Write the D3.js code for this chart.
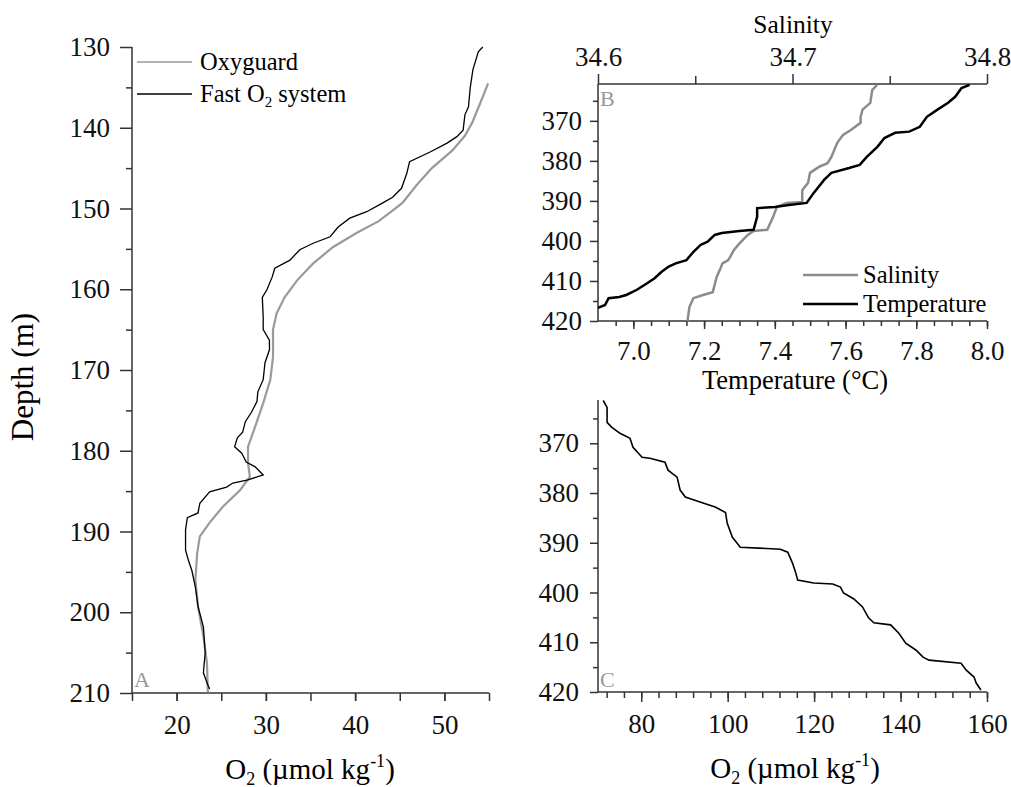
<!DOCTYPE html>
<html>
<head>
<meta charset="utf-8">
<script src="https://cdn.jsdelivr.net/npm/d3@7"></script>
<style>
  body { margin: 0; background: #fff; }
</style>
</head>
<body>
<div id="chart"></div>
<script>
const FONT = "'Liberation Serif', 'Times New Roman', serif";

// Panel A: O2 profiles (value, depth)
const oxyguard = [
  [54.9,134.5],[54,137],[53.1,139.4],[52.3,141],[50.9,142.8],[48.6,145],[46.9,147.1],
  [45.3,149.3],[43.9,150.5],[42.6,151.6],[40.2,153],[37.5,154.8],[35.3,156.8],[33.5,158.9],
  [32.1,161],[31.2,163],[30.8,165],[30.8,168.4],[30.5,171.2],[29.7,174.1],[28.8,177],
  [28,179.5],[28,181.5],[28.2,183.2],[27.1,184.9],[25.2,186.9],[23.7,188.9],[22.6,190.6],
  [22.3,192.7],[22.1,196],[22.4,199.3],[23,203],[23.4,206.3],[23.5,209.9]
];
const fastO2 = [
  [54.3,130],[53.8,130.6],[53.2,132.8],[52.9,135],[52.7,137.4],[52.3,138.4],[52.1,140.3],
  [51.4,141.1],[50.3,141.9],[48.4,143],[46.1,144.2],[45.8,145.6],[45.2,147.5],[44.2,148.6],
  [43.1,149.3],[41.3,150.4],[39.4,151.2],[38.1,152.3],[37.2,153.5],[35.3,154.3],[33.8,155.1],
  [32.7,156.4],[31,157.4],[30.7,158.5],[30.1,160.1],[29.6,161],[29.7,163.4],[29.7,165],
  [30.4,166.3],[30.4,167.5],[29.9,169.1],[29.7,171.2],[29.1,172.7],[29,173.9],[28.4,175.2],
  [27.7,176.4],[27.4,177.7],[26.8,178.4],[26.5,179.5],[27.3,180.3],[27.8,181.4],[28.8,182],
  [29.7,183],[28,183.6],[26.3,184],[25.6,184.5],[23.7,185.1],[22.6,186.5],[22.4,187.7],
  [21.2,188.3],[21,189.8],[21,192.3],[21.3,193.5],[21.7,194.8],[22.1,196.9],[22.4,199.3],
  [23,201.8],[23.2,205],[23,207.5],[23.5,209],[23.7,209.5]
];

// Panel B: temperature and salinity (value, depth)
const temperature = [
  [7.951,361],[7.928,361.8],[7.91,364],[7.89,365.5],[7.86,367.2],[7.83,369],[7.81,371.5],
  [7.78,372.7],[7.74,373],[7.71,374.3],[7.69,376.5],[7.66,379],[7.64,381],[7.61,381.8],
  [7.56,383],[7.54,384.7],[7.51,388],[7.49,390.5],[7.44,391],[7.40,391.5],[7.35,391.8],
  [7.35,394],[7.34,397.2],[7.30,397.5],[7.25,398],[7.23,398.5],[7.21,400.2],[7.19,401],
  [7.17,402.7],[7.15,404.8],[7.12,405.6],[7.10,406.4],[7.08,407.7],[7.06,409.3],[7.04,410.5],
  [7.01,412.2],[6.98,413.5],[6.96,414],[6.93,414.3],[6.92,416],[6.90,416.7]
];
const salinity = [
  [34.7435,361],[34.741,362.3],[34.740,365.5],[34.736,367.2],[34.735,369],[34.735,370.5],
  [34.730,372.3],[34.726,373.5],[34.723,375.5],[34.720,379],[34.718,380.6],[34.714,381.4],
  [34.709,383],[34.708,385.5],[34.705,387.3],[34.705,390.3],[34.697,390.5],[34.692,391.5],
  [34.690,394],[34.687,397.2],[34.680,397.5],[34.677,398.5],[34.673,400.5],[34.670,402.2],
  [34.667,404.8],[34.664,405.6],[34.663,406.8],[34.661,409],[34.659,412.8],[34.654,413.5],
  [34.649,414.3],[34.647,416.5],[34.646,420]
];

// Panel C: O2 (value, depth)
const oxygenC = [
  [71.2,361.4],[72.1,362.8],[72.1,365.8],[73.2,366.8],[75.1,368],[77.4,369],[78.1,370.8],
  [80.2,372.8],[82,373],[85.5,373.8],[86.2,375.4],[88.3,376.8],[89,379.4],[90.2,380.8],
  [93.6,381.8],[97.1,382.8],[99.5,383.9],[99.9,386.1],[101.1,388.9],[102.2,390.1],
  [102.9,390.9],[112.2,391.3],[113.9,391.9],[115,394.1],[115.7,395.9],[116.2,397.5],
  [119.9,398.1],[124.3,398.3],[126.1,398.9],[126.8,400.1],[129.2,401.3],[131.2,402.9],
  [132.6,405.1],[133.8,406.1],[137.7,406.5],[139.6,408.2],[141.2,410.2],[143.6,411.6],
  [145.2,413],[146.6,413.6],[154,414.2],[155.2,415.6],[157,417],[157.5,418.2],[158.6,419.6]
];

// tick values
const depthTicksA = [130,140,150,160,170,180,190,200,210];
const o2TicksA = [20,30,40,50];
const depthTicksBC = [370,380,390,400,410,420];
const tempTicks = [7.0,7.2,7.4,7.6,7.8,8.0];
const salTicks = [34.6,34.7,34.8];
const o2TicksC = [80,100,120,140,160];

const svg = d3.select("#chart").append("svg")
  .attr("width", 1011).attr("height", 787)
  .attr("font-family", FONT);

// scales
const xA = d3.scaleLinear().domain([15,55]).range([132,489]);
const yA = d3.scaleLinear().domain([130,210]).range([47,693]);
const xT = d3.scaleLinear().domain([6.9,8.0]).range([598,987]);
const xS = d3.scaleLinear().domain([34.6,34.8]).range([598,987]);
const yB = d3.scaleLinear().domain([360.8,420]).range([84,321]);
const xC = d3.scaleLinear().domain([70,160]).range([598,987]);
const yC = d3.scaleLinear().domain([361.3,420]).range([400,692]);

function drawAxis(axisFn, scale, tx, ty, major, minor, fmt, majLen, minLen, pad) {
  const g = svg.append("g").attr("transform",`translate(${tx},${ty})`);
  g.call(axisFn(scale).tickValues(minor).tickSize(minLen).tickFormat(""));
  g.selectAll("text").remove();
  g.select(".domain").remove();
  const g2 = svg.append("g").attr("transform",`translate(${tx},${ty})`);
  g2.call(axisFn(scale).tickValues(major).tickSize(majLen).tickPadding(pad).tickFormat(fmt));
  g2.select(".domain").remove();
  [g, g2].forEach(s => {
    s.attr("font-family", FONT).attr("font-size", 27);
    s.selectAll("line").attr("stroke", "#333").attr("stroke-width", 1.5);
    s.selectAll("text").attr("fill", "#111");
  });
  return g2;
}
function range(a, b, s) { return d3.range(0, Math.round((b - a) / s) + 1).map(i => +(a + i * s).toFixed(4)); }

function axisLine(x1,y1,x2,y2){
  svg.append("line").attr("x1",x1).attr("y1",y1).attr("x2",x2).attr("y2",y2)
    .attr("stroke","#333").attr("stroke-width",1.5);
}

// Panel A axes
drawAxis(d3.axisLeft, yA, 132, 0, depthTicksA, range(135,205,10), d3.format("d"), 12, 6, 10);
drawAxis(d3.axisBottom, xA, 0, 693, o2TicksA, range(15,55,5), d3.format("d"), 8, 8, 14);
axisLine(132,47,132,693); axisLine(132,693,489,693);

// Panel B axes
drawAxis(d3.axisLeft, yB, 598, 0, depthTicksBC, range(365,415,10), d3.format("d"), 8, 5, 8);
drawAxis(d3.axisBottom, xT, 0, 321, tempTicks, range(6.95,8.0,0.05), d3.format(".1f"), 8, 5, 12);
drawAxis(d3.axisTop, xS, 0, 84, salTicks, [34.65,34.75], d3.format(".1f"), 10, 8, 8);
axisLine(598,84,598,321); axisLine(598,321,987,321); axisLine(598,84,987,84);

// Panel C axes
drawAxis(d3.axisLeft, yC, 598, 0, depthTicksBC, range(365,415,10), d3.format("d"), 8, 5, 11);
drawAxis(d3.axisBottom, xC, 0, 692, o2TicksC, range(72,160,4), d3.format("d"), 10, 6, 12);
axisLine(598,400,598,692); axisLine(598,692,987,692);

// lines
const lineA = d3.line().x(d => xA(d[0])).y(d => yA(d[1]));
svg.append("path").datum(oxyguard).attr("d", lineA)
  .attr("fill","none").attr("stroke","#9a9a9a").attr("stroke-width",2.2);
svg.append("path").datum(fastO2).attr("d", lineA)
  .attr("fill","none").attr("stroke","#000").attr("stroke-width",1.3);

svg.append("path").datum(salinity).attr("d", d3.line().x(d => xS(d[0])).y(d => yB(d[1])))
  .attr("fill","none").attr("stroke","#8c8c8c").attr("stroke-width",2.5);
svg.append("path").datum(temperature).attr("d", d3.line().x(d => xT(d[0])).y(d => yB(d[1])))
  .attr("fill","none").attr("stroke","#000").attr("stroke-width",2.5);

svg.append("path").datum(oxygenC).attr("d", d3.line().x(d => xC(d[0])).y(d => yC(d[1])))
  .attr("fill","none").attr("stroke","#000").attr("stroke-width",1.6);

// legend A
svg.append("line").attr("x1",137).attr("x2",192).attr("y1",62).attr("y2",62)
  .attr("stroke","#9a9a9a").attr("stroke-width",1.5);
svg.append("line").attr("x1",137).attr("x2",192).attr("y1",94).attr("y2",94)
  .attr("stroke","#000").attr("stroke-width",1.3);
svg.append("text").attr("x",200).attr("y",70).attr("font-size",24.5).text("Oxyguard");
const fl = svg.append("text").attr("x",200).attr("y",102).attr("font-size",24.5);
fl.append("tspan").text("Fast O");
fl.append("tspan").attr("font-size",15).attr("dy",5).text("2");
fl.append("tspan").attr("dy",-5).text(" system");

// legend B
svg.append("line").attr("x1",803).attr("x2",858).attr("y1",275).attr("y2",275)
  .attr("stroke","#8c8c8c").attr("stroke-width",2.5);
svg.append("line").attr("x1",803).attr("x2",858).attr("y1",304).attr("y2",304)
  .attr("stroke","#000").attr("stroke-width",2.5);
svg.append("text").attr("x",863).attr("y",283).attr("font-size",24.5).text("Salinity");
svg.append("text").attr("x",863).attr("y",312).attr("font-size",24.5).text("Temperature");

// panel letters
[["A",134,687],["B",600,106],["C",600,687]].forEach(([t,x,y]) =>
  svg.append("text").attr("x",x).attr("y",y).attr("font-size",22).attr("fill","#999").text(t));

// axis titles
svg.append("text").attr("transform","translate(33,377) rotate(-90)")
  .attr("text-anchor","middle").attr("font-size",31).text("Depth (m)");
svg.append("text").attr("x",793).attr("y",33).attr("text-anchor","middle")
  .attr("font-size",25.5).text("Salinity");
svg.append("text").attr("x",795).attr("y",389).attr("text-anchor","middle")
  .attr("font-size",26.5).text("Temperature (°C)");

function o2Label(cx, y) {
  const t = svg.append("text").attr("x",cx).attr("y",y).attr("text-anchor","middle").attr("font-size",29);
  t.append("tspan").text("O");
  t.append("tspan").attr("font-size",18).attr("dy",6).text("2");
  t.append("tspan").attr("dy",-6).text(" (µmol kg");
  t.append("tspan").attr("font-size",18).attr("dy",-12).text("-1");
  t.append("tspan").attr("dy",12).text(")");
}
o2Label(310, 779);
o2Label(795, 778);

svg.selectAll("text").style("font-family", FONT);
</script>
</body>
</html>
